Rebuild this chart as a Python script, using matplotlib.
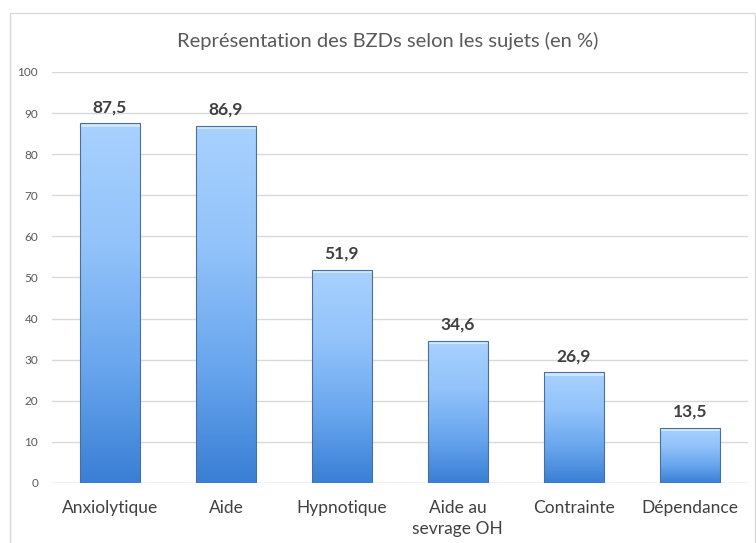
import matplotlib
matplotlib.use("Agg")
import matplotlib.pyplot as plt
import numpy as np
from matplotlib.patches import Rectangle
from matplotlib.colors import LinearSegmentedColormap

categories = ["Anxiolytique", "Aide", "Hypnotique", "Aide au\nsevrage OH", "Contrainte", "Dépendance"]
values = [87.5, 86.9, 51.9, 34.6, 26.9, 13.5]
labels = ["87,5", "86,9", "51,9", "34,6", "26,9", "13,5"]
yticks = [0, 10, 20, 30, 40, 50, 60, 70, 80, 90, 100]

plt.rcParams['font.family'] = ['Lato', 'DejaVu Sans']

fig = plt.figure(figsize=(7.56, 5.43), dpi=100)
ax = fig.add_axes([0.0688, 0.1105, 0.9202, 0.757])

# chart border
fig.patches.append(Rectangle((10/756, -0.1), 745/756, 1 - 13/543 + 0.1, transform=fig.transFigure,
                             fill=False, edgecolor='#d9d9d9', linewidth=1))

cmap = LinearSegmentedColormap.from_list('g', ['#3a7fd5', '#6aa7ee', '#93c3fa', '#a8d1fe'])
x = np.arange(len(categories))
width = 0.52
grad = np.linspace(0, 1, 256).reshape(-1, 1)
for xi, v in zip(x, values):
    rect = Rectangle((xi - width/2, 0), width, v, facecolor='none', edgecolor='#4a6f9c', linewidth=0.8, zorder=4)
    ax.add_patch(rect)
    im = ax.imshow(grad, cmap=cmap, aspect='auto', origin='lower',
                   extent=(xi - width/2, xi + width/2, 0, v), zorder=3)
    im.set_clip_path(rect)
    ax.add_patch(Rectangle((xi - width/2, v - 0.8), width, 0.8, facecolor='#cfe6ff', edgecolor='none', zorder=3.5))
ax.set_xlim(-0.5, len(categories) - 0.5)
ax.set_ylim(0, 100)

for xi, v, lab in zip(x, values, labels):
    ax.text(xi, v + 2.0, lab, ha='center', va='bottom', fontsize=12.5, fontweight='bold', color='#404040')

ax.set_yticks(yticks)
ax.set_yticklabels([str(t) for t in yticks], fontsize=8.5, color='#595959')
ax.set_xticks(x)
ax.set_xticklabels(categories, fontsize=12.5, color='#404040', linespacing=1.4)
ax.tick_params(axis='both', length=0)
ax.tick_params(axis='x', pad=12)
ax.tick_params(axis='y', pad=10)
ax.grid(axis='y', color='#d9d9d9', linewidth=1)
ax.set_axisbelow(True)
for s in ax.spines.values():
    s.set_visible(False)
ax.axhline(0, color='#d9d9d9', linewidth=1, zorder=1)

fig.text(388/756, 1 - 41/543, "Représentation des BZDs selon les sujets (en %)", ha='center', va='center',
         fontsize=14.5, color='#595959')

fig.savefig("out.png", dpi=100)
